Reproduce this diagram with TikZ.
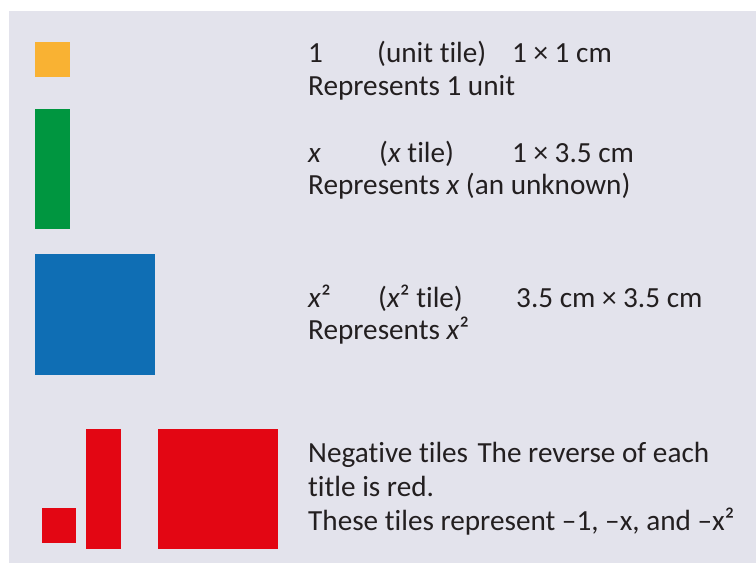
\documentclass[tikz,border=0pt]{standalone}
\usepackage{fontspec}
\setmainfont[Ligatures=NoCommon]{Carlito}
\definecolor{panelgray}{RGB}{227,227,236}
\definecolor{tileorange}{RGB}{249,178,51}
\definecolor{tilegreen}{RGB}{0,150,64}
\definecolor{tileblue}{RGB}{15,110,180}
\definecolor{tilered}{RGB}{227,6,19}
\definecolor{inkdark}{RGB}{35,31,32}
\begin{document}
\begin{tikzpicture}[x=1pt,y=-1pt,
  txt/.style={anchor=base west, inner sep=0pt, text=inkdark, font=\fontsize{29.2}{34}\selectfont}]
\useasboundingbox (0,0) rectangle (756,563);
\fill[white] (0,0) rectangle (756,563);
\fill[panelgray] (9,11) rectangle (756,563);
% tiles
\fill[tileorange] (35,42) rectangle (70,77);
\fill[tilegreen] (35,109) rectangle (70,229);
\fill[tileblue] (35,254) rectangle (155,375);
\fill[tilered] (42,508) rectangle (76,543);
\fill[tilered] (86,429) rectangle (121,549);
\fill[tilered] (158,429) rectangle (278,549);
% texts
\node[txt] (t1a) at (308,62) {1};
\node[txt] (t1b) at (377,62) {(unit tile)};
\node[txt] (t1c) at (512,62) {1 × 1 cm};
\node[txt] (t2) at (308,95) {Represents 1 unit};
\node[txt] (t3a) at (308,162) {\textit{x}};
\node[txt] (t3b) at (379,162) {(\textit{x} tile)};
\node[txt] (t3c) at (512,162) {1 × 3.5 cm};
\node[txt] (t4) at (308,194) {Represents \textit{x} (an unknown)};
\node[txt] (t5a) at (308,307) {\textit{x}²};
\node[txt] (t5b) at (378,307) {(\textit{x}² tile)};
\node[txt] (t5c) at (516,307) {3.5 cm × 3.5 cm};
\node[txt] (t6) at (308,339) {Represents \textit{x}²};
\node[txt] (t7) at (308,462) {Negative tiles\hspace{0.32em}The reverse of each};
\node[txt] (t8) at (308,496) {title is red.};
\node[txt] (t9) at (308,530) {These tiles represent –1, –x, and –x²};
\end{tikzpicture}
\end{document}
